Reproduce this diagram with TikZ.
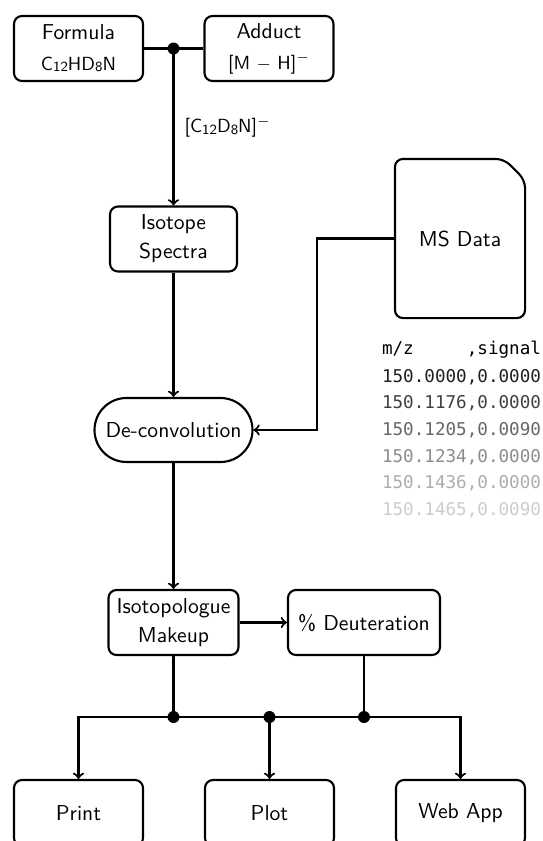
\documentclass[tikz,border=0pt]{standalone}
\usepackage{fontspec}
\newfontfamily\datafont{DejaVu Sans Mono}
\usetikzlibrary{calc}
\newcommand\mysub[1]{\raisebox{-0.15ex}{\fontsize{7}{8}\selectfont #1}}
\begin{document}
\begin{tikzpicture}[x=0.5pt,y=-0.5pt,
  font=\sffamily\fontsize{10.8}{14.5}\selectfont,
  line width=1.05pt,
  box/.style={draw, rounded corners=4pt, align=center, minimum width=64.5pt, minimum height=32.5pt, inner sep=2pt},
  small/.style={font=\sffamily\fontsize{9.5}{11}\selectfont},
  dot/.style={circle, fill, inner sep=0pt, minimum size=6pt},
  dataline/.style={anchor=west, inner sep=0pt, font=\datafont\fontsize{8.8}{10}\selectfont}]
\clip (0,0) rectangle (542,841);
\useasboundingbox (0,0) rectangle (542,841);

% top row
\node[box] (formula) at (78.5,48.5) {Formula\\[1pt]{\fontsize{9.5}{11}\selectfont C\mysub{12}HD\mysub{8}N}};
\node[box] (adduct) at (269,48.5) {Adduct\\[1pt]{\fontsize{9.5}{11}\selectfont [M $-$ H]$^{-}$}};
\node[dot] (j1) at (173.5,48.5) {};

\node[box, minimum width=63.5pt] (iso) at (173.5,239) {Isotope\\Spectra};

% MS data document
\node[minimum width=64pt, minimum height=78.5pt, inner sep=0pt] (ms) at (460,238.5) {MS Data};
\draw[rounded corners=4pt] (ms.south west) -- (ms.north west) -- ([xshift=-10.5pt]ms.north east) -- ([yshift=-10.5pt]ms.north east) -- (ms.south east) -- cycle;

% data lines
\node[dataline, text=black] (d0) at (381,350) {m/z\phantom{00000},signal};
\node[dataline, text=black!88] (d1) at (381,376.7) {150.0000,0.0000};
\node[dataline, text=black!75] (d2) at (381,403.3) {150.1176,0.0000};
\node[dataline, text=black!60] (d3) at (381,430) {150.1205,0.0090};
\node[dataline, text=black!45] (d4) at (381,456.7) {150.1234,0.0000};
\node[dataline, text=black!32] (d5) at (381,483.3) {150.1436,0.0000};
\node[dataline, text=black!20] (d6) at (381,510) {150.1465,0.0090};

\node[draw, rounded corners=16pt, minimum width=79pt, minimum height=32pt, inner sep=2pt] (dec) at (173.5,430) {De-convolution};

\node[box, minimum width=65pt] (mak) at (173.5,622.5) {Isotopologue\\Makeup};
\node[box, minimum width=76pt] (deut) at (364,622.5) {\% Deuteration};

\node[dot] (j2) at (173.5,717) {};
\node[dot] (j3) at (269.5,717) {};
\node[dot] (j4) at (364,717) {};

\node[box, minimum height=33pt] (print) at (78.5,813) {Print};
\node[box, minimum height=33pt] (plot) at (269.5,813) {Plot};
\node[box, minimum height=33pt] (web) at (460.5,813) {Web App};

% connectors
\draw (formula) -- (adduct);
\draw[->] (j1.center) -- (iso) node[midway, anchor=west, inner sep=0pt, xshift=5pt, small] {[C\mysub{12}D\mysub{8}N]$^{-}$};
\draw[->] (iso) -- (dec);
\draw[->] (ms.west) -- ++(-78,0) |- (dec.east);
\draw[->] (dec) -- (mak);
\draw[->] (mak) -- (deut);
\draw (mak) -- (j2.center);
\draw (deut) -- (j4.center);
\draw (j2.center) -- (j4.center);
\draw[->] (j2.center) -| (print.north);
\draw[->] (j3.center) -- (plot.north);
\draw[->] (j4.center) -| (web.north);
\end{tikzpicture}
\end{document}
